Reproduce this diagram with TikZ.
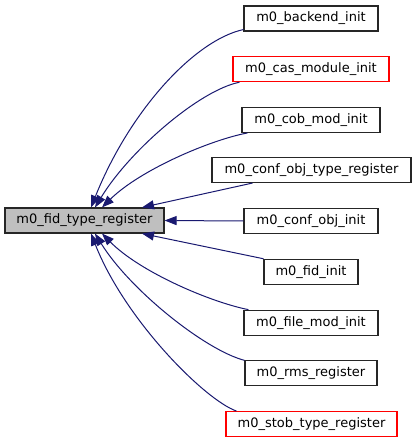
\documentclass[tikz,border=0pt]{standalone}
\usepackage{fontspec}
\setmainfont{DejaVu Sans}
\usetikzlibrary{arrows.meta}
\definecolor{edgecol}{HTML}{191970}
\begin{document}
\begin{tikzpicture}[x=1pt,y=-1pt,
  box/.style={draw=black!85, line width=1.1pt, fill=white, minimum height=25pt, inner sep=0pt, font=\fontsize{13}{15}\selectfont},
  redbox/.style={box, draw=red},
  mainbox/.style={box, fill=black!25},
  link/.style={draw=edgecol, line width=1pt, -{Triangle[length=12pt,width=9pt]}}]
\useasboundingbox (0,0) rectangle (416,443);
\node[mainbox, minimum width=159pt] (main) at (84.5,220.5) {m0\_fid\_type\_register};
\node[box, minimum width=134pt] (n1) at (311,18.5) {m0\_backend\_init};
\node[redbox, minimum width=156pt] (n2) at (311,69.2) {m0\_cas\_module\_init};
\node[box, minimum width=138pt] (n3) at (311,119.9) {m0\_cob\_mod\_init};
\node[box, minimum width=199pt] (n4) at (311.5,170) {m0\_conf\_obj\_type\_register};
\node[box, minimum width=134pt] (n5) at (311,221) {m0\_conf\_obj\_init};
\node[box, minimum width=94pt] (n6) at (311,271.8) {m0\_fid\_init};
\node[box, minimum width=134pt] (n7) at (311,322.7) {m0\_file\_mod\_init};
\node[box, minimum width=132pt] (n8) at (311,373.4) {m0\_rms\_register};
\node[redbox, minimum width=171pt] (n9) at (311.5,424.1) {m0\_stob\_type\_register};

\draw[link] ([yshift=2pt]n1.south west) .. controls (195,40) and (130,110) .. ([xshift=6.5pt]main.north);
\draw[link] ([xshift=7pt]n2.south west) .. controls (200,90) and (130,150) .. ([xshift=10.5pt]main.north);
\draw[link] ([xshift=6pt]n3.south west) .. controls (210,140) and (140,170) .. ([xshift=17.5pt]main.north);
\draw[link] ([xshift=41pt]n4.south west) -- ([xshift=57.5pt]main.north);
\draw[link] (n5.west) -- (main.east);
\draw[link] (n6.north west) -- ([xshift=57.5pt]main.south);
\draw[link] ([xshift=5pt]n7.north west) .. controls (210,302) and (140,272) .. ([xshift=17.5pt]main.south);
\draw[link] (n8.north west) .. controls (205,350) and (130,290) .. ([xshift=10.5pt]main.south);
\draw[link] ([xshift=11pt]n9.north west) .. controls (205,400) and (125,320) .. ([xshift=6.5pt]main.south);
\end{tikzpicture}
\end{document}
